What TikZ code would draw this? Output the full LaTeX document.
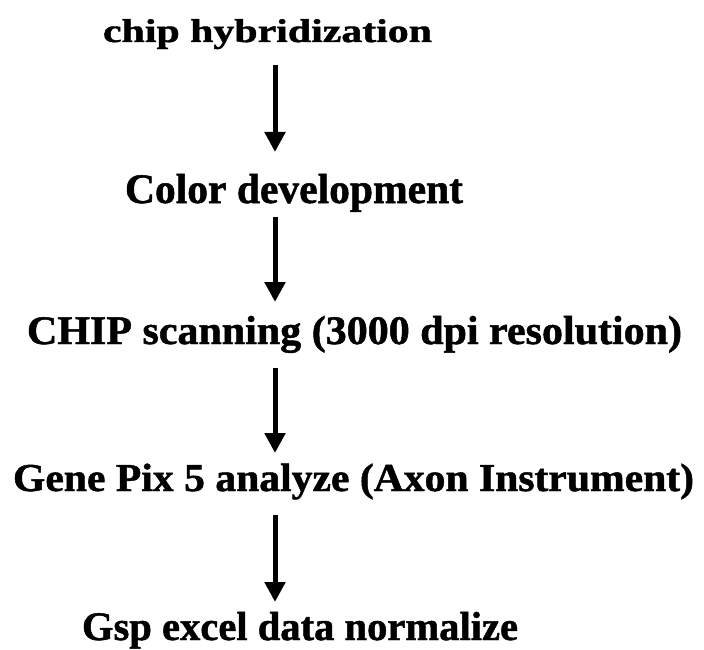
\documentclass[tikz,border=0pt]{standalone}
\usepackage{fontspec}
\usepackage{graphicx}
\setmainfont{Liberation Serif}
\newfontfamily\heavyserif{Liberation Serif Bold}[FakeBold=1.2]
\usetikzlibrary{arrows.meta,calc}
\tikzset{
  lbl/.style={anchor=base west, inner sep=0pt, outer sep=0pt, font=\heavyserif},
  flow/.style={line width=5pt, -{Triangle[width=20pt,length=20pt]}}
}
\newcommand{\fitline}[3]{\fontsize{#2}{#2}\selectfont\resizebox{#1}{\height}{#3}}
\begin{document}
\begin{tikzpicture}[x=1pt,y=-1pt]
\fill[white] (0,0) rectangle (704,650);
\useasboundingbox (0,0) rectangle (704,650);
\coordinate (ax) at (275,0);
\node[lbl] (a) at (103,42) {\fitline{329pt}{33pt}{chip hybridization}};
\node[lbl] (b) at (125,203) {\fitline{338pt}{42pt}{Color development}};
\node[lbl] (c) at (27,344) {\fitline{655pt}{40.5pt}{CHIP scanning (3000 dpi resolution)}};
\node[lbl] (d) at (13,491) {\fitline{681pt}{39.5pt}{Gene Pix 5 analyze (Axon Instrument)}};
\node[lbl] (e) at (82,640) {\fitline{436pt}{40.5pt}{Gsp excel data normalize}};
\draw[flow] ($(a.base -| ax)+(0,23)$) -- ($(b.base -| ax)+(0,-51)$);
\draw[flow] ($(b.base -| ax)+(0,14)$) -- ($(c.base -| ax)+(0,-42)$);
\draw[flow] ($(c.base -| ax)+(0,24)$) -- ($(d.base -| ax)+(0,-38)$);
\draw[flow] ($(d.base -| ax)+(0,24)$) -- ($(e.base -| ax)+(0,-38)$);
\end{tikzpicture}
\end{document}
